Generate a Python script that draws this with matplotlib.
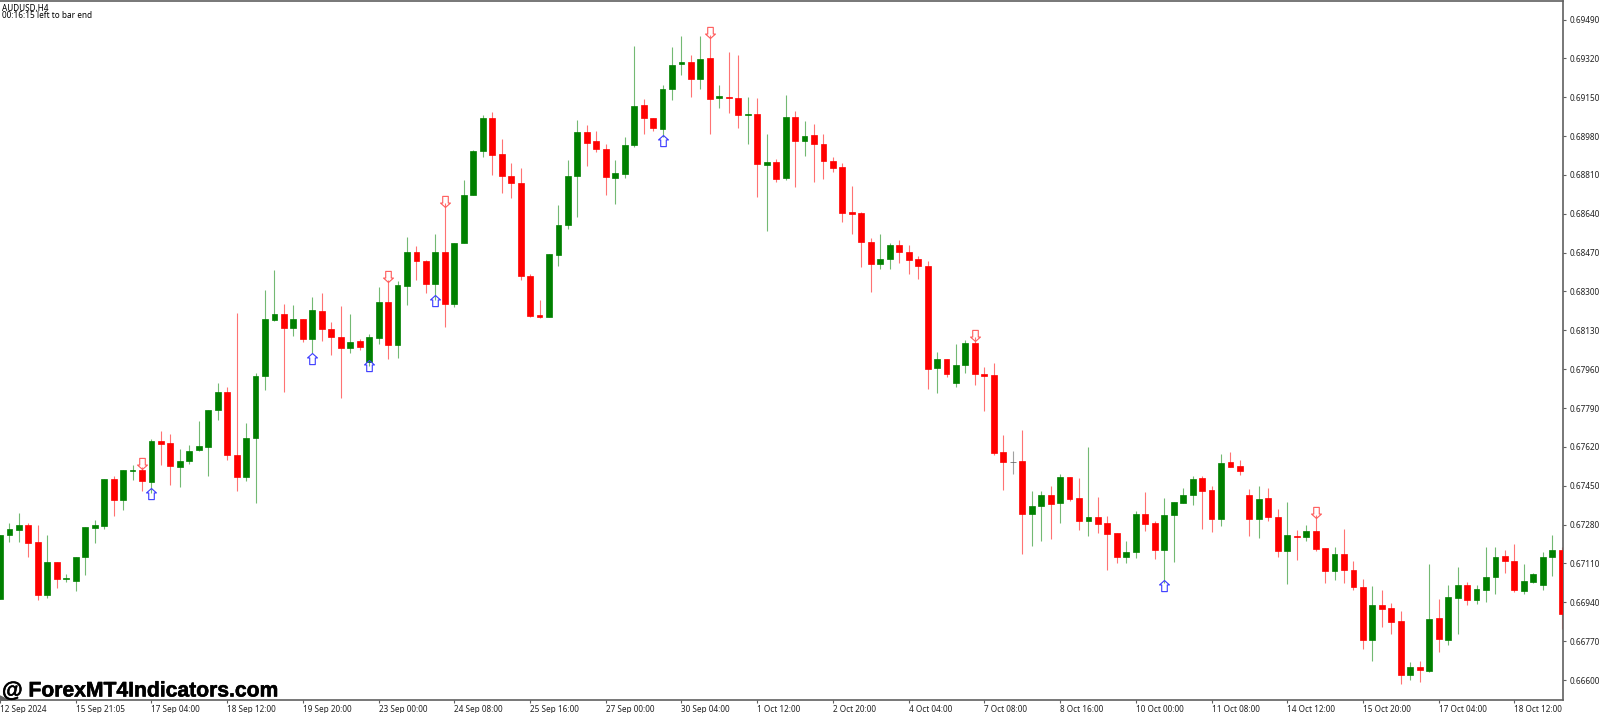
import matplotlib
matplotlib.use("Agg")
import matplotlib.pyplot as plt
import matplotlib.patheffects as pe
from matplotlib.path import Path

# Prices in points (1e-5)
opens = [
66954,67233,67256,67277,67204,66972,67118,67041,67033,67137,
67266,67274,67478,67388,67515,67520,67468,67646,67637,67533,
67557,67606,67621,67780,67862,67583,67487,67660,67932,68175,
68203,68140,68178,68092,68216,68136,68102,68054,68082,67992,
68098,68253,68066,68324,68472,68432,68333,68472,68244,68514,
68722,68916,69058,68902,68806,68775,68369,68196,68190,68460,
68592,68806,68997,68957,68925,68797,68813,68941,69115,69059,
69010,69188,69296,69303,69231,69322,69146,69153,69148,69074,
69078,68855,68868,68797,69062,68959,68985,68946,68871,68844,
68647,68644,68517,68420,68442,68502,68472,68441,68412,67967,
68006,67901,67978,68076,67938,67936,67596,67556,67558,67328,
67361,67411,67373,67488,67395,67297,67312,67286,67242,67137,
67160,67328,67287,67168,67321,67375,67408,67484,67430,67303,
67553,67538,67408,67303,67395,67315,67166,67230,67226,67253,
67178,67078,67151,67081,67006,66774,66927,66914,66857,66621,
66657,66641,66870,66775,66960,67017,66949,66993,67049,67143,
67121,66991,67029,67016,67137,67168]
closes = [
67235,67259,67277,67201,66972,67118,67042,67045,67137,67271,
67277,67478,67388,67518,67518,67471,67646,67634,67536,67558,
67603,67625,67782,67862,67583,67487,67659,67930,68178,68203,
68139,68178,68092,68219,68137,68101,68054,68079,68057,68100,
68255,68066,68327,68472,68435,68332,68472,68244,68514,68721,
68915,69059,68897,68806,68775,68369,68193,68190,68464,68591,
68804,68998,68951,68924,68800,68817,68942,69112,69058,69016,
69186,69293,69303,69231,69319,69144,69156,69146,69074,69078,
68857,68865,68794,69062,68957,68982,68946,68872,68841,68645,
68641,68515,68420,68441,68502,68473,68439,68412,67962,68006,
67939,67980,68076,67938,67932,67595,67554,67556,67328,67361,
67411,67370,67488,67392,67296,67312,67284,67240,67137,67161,
67325,67284,67168,67322,67378,67411,67481,67428,67305,67551,
67532,67515,67303,67392,67315,67165,67233,67224,67253,67173,
67078,67151,67081,67006,66776,66930,66909,66852,66621,66657,
66645,66867,66778,66962,67014,66951,66997,67051,67138,67119,
66993,67032,67064,67138,67168,66890]
highs = [
67235,67286,67329,67288,67277,67233,67118,67063,67137,67271,
67300,67478,67493,67518,67541,67533,67655,67688,67676,67610,
67627,67735,67782,67898,67883,68205,67723,67942,68307,68394,
68245,68241,68178,68277,68292,68165,68237,68200,68091,68114,
68318,68350,68345,68539,68499,68438,68552,68687,68514,68788,
68918,69074,69084,68966,68864,68839,68377,68263,68465,68679,
68876,69051,69029,69001,68946,68876,68977,69374,69141,69059,
69204,69369,69418,69335,69418,69423,69205,69347,69335,69153,
69146,68989,68879,69159,69091,69047,69033,68989,68887,68864,
68762,68647,68534,68552,68511,68525,68502,68455,68434,68037,
68006,68070,68088,68101,67968,67986,67672,67602,67694,67427,
67427,67450,67501,67488,67484,67621,67401,67318,67242,67208,
67338,67424,67297,67398,67380,67442,67494,67493,67450,67590,
67596,67561,67437,67450,67440,67348,67378,67256,67277,67322,
67178,67181,67261,67119,67041,67011,66993,66936,66903,66679,
66682,67106,66953,67016,67093,67029,67017,67183,67183,67170,
67196,67106,67068,67159,67235,67183]
lows = [
66954,67205,67205,67137,66950,66958,67003,67030,66989,67059,
67201,67262,67318,67344,67475,67427,67418,67541,67455,67446,
67545,67601,67494,67739,67563,67427,67472,67376,67869,68172,
67862,68105,68080,68030,68082,68022,67834,68032,68044,67974,
68070,68005,68010,68242,68350,68295,68263,68146,68231,68514,
68722,68887,68810,68732,68709,68349,68187,68183,68190,68412,
68572,68627,68849,68912,68721,68683,68798,68931,68989,69004,
68977,69138,69247,69153,69186,68991,69102,69080,69017,68947,
68712,68566,68781,68787,68756,68893,68781,68791,68824,68606,
68552,68406,68299,68400,68399,68423,68377,68356,67872,67857,
67926,67883,67945,67891,67777,67583,67431,67501,67151,67186,
67208,67217,67287,67385,67258,67230,67245,67080,67111,67113,
67135,67253,67130,67024,67116,67373,67366,67261,67248,67274,
67532,67497,67231,67223,67296,67140,67020,67124,67207,67163,
67023,67038,67023,66994,66736,66683,66833,66801,66582,66600,
66593,66636,66723,66754,66803,66928,66934,66941,66978,67068,
66985,66978,67023,66993,67055,66823]

sell_idx = [15, 41, 47, 75, 103, 139]
sell_price = [67523, 68343, 68671, 69409, 68083, 67309]
buy_idx = [16, 33, 39, 46, 70, 123]
buy_price = [67440, 68031, 68000, 68285, 68985, 67038]

y_ticks = [66600, 66770, 66940, 67110, 67280, 67450, 67620, 67790, 67960, 68130,
           68300, 68470, 68640, 68810, 68980, 69150, 69320, 69490]
x_tick_labels = ["12 Sep 2024","15 Sep 21:05","17 Sep 04:00","18 Sep 12:00","19 Sep 20:00",
                 "23 Sep 00:00","24 Sep 08:00","25 Sep 16:00","27 Sep 00:00","30 Sep 04:00",
                 "1 Oct 12:00","2 Oct 20:00","4 Oct 04:00","7 Oct 08:00","8 Oct 16:00",
                 "10 Oct 00:00","11 Oct 08:00","14 Oct 12:00","15 Oct 20:00","17 Oct 04:00",
                 "18 Oct 12:00"]

SCALE = 1e-5
GREEN, RED, DOJI = "#008000", "#ff0000", "#555555"
FRAME = "#606060"
FONT = "Noto Sans"
BOLD = "Liberation Sans"
LABEL_SIZE = 5.9

W, H = 1600, 713
fig = plt.figure(figsize=(W / 100, H / 100), dpi=100, facecolor="white")
ax = fig.add_axes([0, 13 / H, 1563 / W, 699 / H])
ax.set_facecolor("white")

n = len(opens)
xs = list(range(n))
colors = [GREEN if c > o else RED if c < o else DOJI for o, c in zip(opens, closes)]

ax.vlines(xs, [v * SCALE for v in lows], [v * SCALE for v in highs],
          colors=colors, linewidth=0.8, alpha=0.55, zorder=2)
bottoms = [min(o, c) * SCALE for o, c in zip(opens, closes)]
heights = [abs(c - o) * SCALE for o, c in zip(opens, closes)]
ax.bar(xs, heights, bottom=bottoms, width=0.62, color=colors, edgecolor=colors,
       linewidth=0.5, zorder=3)

# hollow arrows, tip sits on the price
down = Path([(0, 0), (0.45, 0.40), (0.25, 0.40), (0.25, 1), (-0.25, 1), (-0.25, 0.40), (-0.45, 0.40), (0, 0)], closed=True)
up = Path([(0, 0), (0.45, -0.40), (0.25, -0.40), (0.25, -1), (-0.25, -1), (-0.25, -0.40), (-0.45, -0.40), (0, 0)], closed=True)
ax.plot(sell_idx, [v * SCALE for v in sell_price], ls="none", marker=down, ms=16,
        mfc="none", mec="#ff5a5a", mew=0.8, zorder=4)
ax.plot(buy_idx, [v * SCALE for v in buy_price], ls="none", marker=up, ms=16,
        mfc="none", mec="#3a3aff", mew=0.8, zorder=4)

ax.set_xlim(0, 1563 / 9.465)
ax.set_ylim(0.665125, 0.69571)

ax.yaxis.tick_right()
ax.set_yticks([v * SCALE for v in y_ticks])
ax.set_yticklabels([f"{v * SCALE:.5f}" for v in y_ticks], fontfamily=FONT, fontsize=LABEL_SIZE, color="#222222")
ax.tick_params(axis="y", length=2.5, width=0.8, color=FRAME, pad=2)

ax.set_xticks(list(range(0, 8 * len(x_tick_labels), 8)))
ax.set_xticklabels(x_tick_labels, fontfamily=FONT, fontsize=LABEL_SIZE, color="#222222", ha="left")
ax.tick_params(axis="x", length=2.5, width=0.8, color=FRAME, pad=1)

for side in ("top", "right", "bottom"):
    ax.spines[side].set_color(FRAME)
    ax.spines[side].set_linewidth(1.2)
ax.spines["left"].set_visible(False)

ax.text(2 / 1563, 1 - 7 / 699, "AUDUSD,H4", transform=ax.transAxes, fontfamily=FONT,
        fontsize=LABEL_SIZE, color="black", va="center", ha="left")
ax.text(2 / 1563, 1 - 15 / 699, "00:16:15 left to bar end", transform=ax.transAxes, fontfamily=FONT,
        fontsize=LABEL_SIZE, color="black", va="center", ha="left")
mark = ax.text(2 / 1563, 3.5 / 699, "@ ForexMT4Indicators.com", transform=ax.transAxes, fontfamily=BOLD,
               fontsize=15.2, fontweight="bold", color="black", va="baseline", ha="left", zorder=6)
mark.set_path_effects([pe.withStroke(linewidth=0.4, foreground="black")])

# small chart-shift triangle on the bottom-left corner of the frame
ax.fill([0, 8 / 1563, 0], [0, 0, 4 / 699], transform=ax.transAxes, color=FRAME, zorder=5, clip_on=False)

fig.savefig("out.png", dpi=100, facecolor="white")
